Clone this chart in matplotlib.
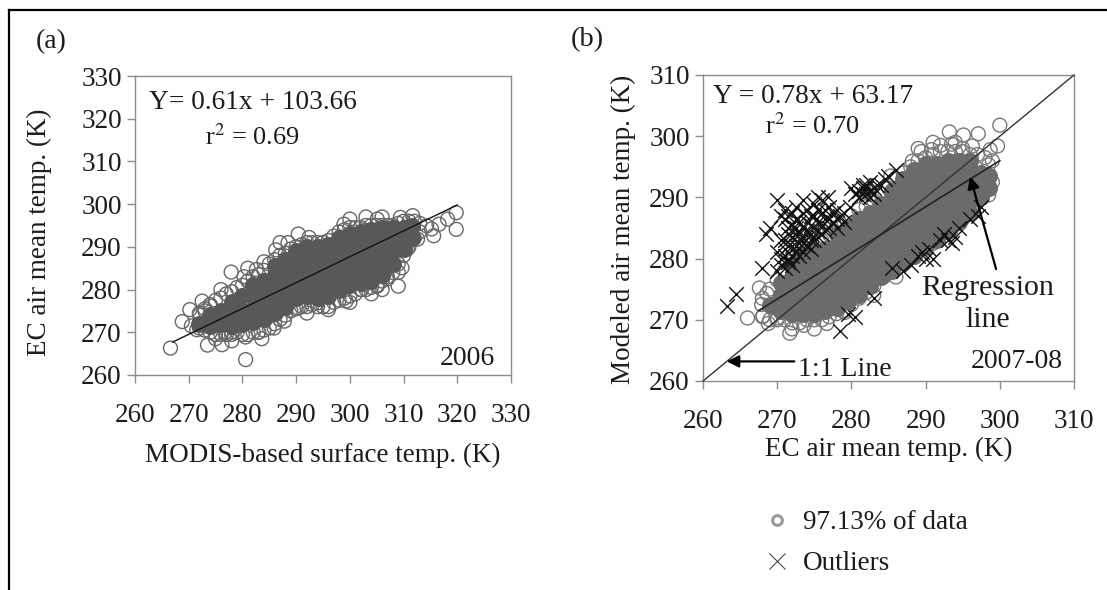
import numpy as np
import matplotlib
matplotlib.use("Agg")
import matplotlib.pyplot as plt
from matplotlib.lines import Line2D

W, H = 1107, 590

ticks_a = [260, 270, 280, 290, 300, 310, 320, 330]
ticks_b = [260, 270, 280, 290, 300, 310]

# panel a, solid middle of the cloud
a_core = [
    (272, 272), (274, 271.5), (274, 274), (276, 272), (276, 275),
    (278, 271.5), (278, 274.5), (278, 277), (280, 272), (280, 275), (280, 278.5),
    (282, 272.5), (282, 275.5), (282, 278.5), (282, 281),
    (284, 273), (284, 276), (284, 279), (284, 282),
    (286, 274.5), (286, 277.5), (286, 280.5), (286, 283.5), (286, 285.5),
    (288, 276), (288, 279), (288, 282), (288, 285), (288, 287),
    (290, 278), (290, 281), (290, 284), (290, 287), (290, 289),
    (292, 278.5), (292, 281.5), (292, 284.5), (292, 287.5), (292, 290),
    (294, 278), (294, 281), (294, 284), (294, 287), (294, 290),
    (296, 278.5), (296, 281.5), (296, 284.5), (296, 287.5), (296, 290.5),
    (298, 280), (298, 283), (298, 286), (298, 289), (298, 292),
    (300, 281), (300, 284), (300, 287), (300, 290), (300, 293),
    (302, 281.5), (302, 284.5), (302, 287.5), (302, 290.5), (302, 293.5),
    (304, 282), (304, 285), (304, 288), (304, 291), (304, 294),
    (306, 283.5), (306, 286.5), (306, 289.5), (306, 292.5), (306, 294.5),
    (308, 286), (308, 289), (308, 292), (308, 294.5),
    (310, 289.5), (310, 292), (310, 294.5), (311.5, 292), (311.5, 295),
]
# panel a, separate circles round the edge
a_rim = [
    (266.6, 266.3), (268.8, 272.5), (270.2, 275.3), (272.5, 277.3), (273.5, 267),
    (276.2, 267.1), (280.6, 263.6), (280.6, 268.9), (283.6, 268.5), (277.9, 284.1),
    (280.3, 283), (282.6, 284.7), (286.2, 289.3), (290.4, 293), (309, 280.8),
    (309.7, 285.1), (319.8, 298), (319.8, 294.1), (318.2, 296.5), (316.6, 295.3),
    (315.6, 292.6), (315.2, 294.2), (314.3, 294.9), (311.7, 297.3), (309.4, 296.9),
    (305.1, 296.5), (298.9, 295.3), (296, 275.3), (299.3, 277.3), (302.2, 280),
    (305.1, 280.8), (287.8, 272.6), (285.9, 271), (276.7, 269.9), (271.5, 270.6),
    (270.5, 271.5), (290.4, 275.7), (294, 276.9), (288.8, 287), (288.5, 291),
    (292.4, 292.2), (276, 280), (274.1, 276.1), (310.7, 289.5), (312.6, 291.8),
    (272, 274), (273, 275), (278, 269.5), (283, 270), (307, 282.5), (309, 284),
    (281, 285), (284, 286.5), (287, 291), (300, 296.5), (303, 297), (306, 297),
    (292, 274.5), (300, 277), (304, 279), (306, 280), (278, 268), (275, 268.5),
]
# panel a, upper and lower edge of the overlapping circles
a_edge_x = [272, 273, 274, 275, 276, 277, 278, 279, 280, 281, 282, 283, 284, 285,
            286, 287, 288, 289, 290, 291, 292, 293, 294, 295, 296, 297, 298, 299,
            300, 301, 302, 303, 304, 305, 306, 307, 308, 309, 310, 311, 312, 313]
a_edge_up = [274.5, 275.5, 276.5, 277.5, 278, 279, 279.5, 280.5, 281, 282, 283, 283.5, 284.5, 286,
             287, 288, 288.5, 289.5, 290, 290.5, 291, 291, 291, 291, 291.5, 292.5, 293.5, 294,
             294.5, 294.5, 294.5, 295, 295, 295, 295, 295, 295, 295.5, 296, 296, 296, 295.5]
a_edge_lo = [271, 270.5, 270, 269.5, 269.5, 269.5, 270, 270, 269.5, 269.5, 270, 270, 270.5, 271,
             272, 273, 274, 275, 275.5, 276, 276, 276.5, 276, 276, 276, 277, 277.5, 278,
             278.5, 279, 280, 280, 280.5, 281, 282, 283, 284, 286, 288, 290, 292, 293.5]
a_line_x = [267, 320]
a_line_y = [267.7, 299.8]

# panel b, solid middle of the cloud
b_core = [
    (269, 272.5), (270.5, 271.5), (270.5, 274), (270.5, 276),
    (272, 271), (272, 273), (272, 275), (272, 277), (272, 279),
    (273.5, 271), (273.5, 273), (273.5, 275), (273.5, 277), (273.5, 279), (273.5, 280.5),
    (275, 271), (275, 273), (275, 275), (275, 277), (275, 279), (275, 281),
    (276.5, 271.5), (276.5, 273.5), (276.5, 275.5), (276.5, 277.5), (276.5, 279.5), (276.5, 281.5),
    (278, 272), (278, 274), (278, 276), (278, 278), (278, 280), (278, 282), (278, 284),
    (279.5, 273), (279.5, 275), (279.5, 277), (279.5, 279), (279.5, 281), (279.5, 283), (279.5, 285),
    (281, 274), (281, 276), (281, 278), (281, 280), (281, 282), (281, 284), (281, 286.5),
    (282.5, 275.5), (282.5, 277.5), (282.5, 279.5), (282.5, 281.5), (282.5, 283.5), (282.5, 285.5), (282.5, 287.5),
    (284, 277), (284, 279), (284, 281), (284, 283), (284, 285), (284, 287), (284, 289),
    (285.5, 278), (285.5, 280), (285.5, 282), (285.5, 284), (285.5, 286), (285.5, 288), (285.5, 290), (285.5, 291),
    (287, 279.5), (287, 281.5), (287, 283.5), (287, 285.5), (287, 287.5), (287, 289.5), (287, 291.5), (287, 293),
    (288.5, 280.5), (288.5, 282.5), (288.5, 284.5), (288.5, 286.5), (288.5, 288.5), (288.5, 290.5), (288.5, 292.5), (288.5, 294.5),
    (290, 282), (290, 284), (290, 286), (290, 288), (290, 290), (290, 292), (290, 294), (290, 295.5),
    (291.5, 283), (291.5, 285), (291.5, 287), (291.5, 289), (291.5, 291), (291.5, 293), (291.5, 295.5),
    (293, 284.5), (293, 286.5), (293, 288.5), (293, 290.5), (293, 292.5), (293, 294.5), (293, 296),
    (294.5, 286), (294.5, 288), (294.5, 290), (294.5, 292), (294.5, 294), (294.5, 296),
    (296, 287.5), (296, 289.5), (296, 291.5), (296, 293.5), (296, 296),
    (297.5, 290), (297.5, 292), (297.5, 294), (298.5, 291.5), (298.5, 293.5),
]
# panel b, separate circles round the edge
b_rim = [
    (300, 301.8), (293.2, 300.7), (295.1, 300.2), (297.1, 300.4), (296.3, 298.4),
    (299.7, 298.4), (298.7, 297.8), (290.8, 297.8), (289.4, 297.5), (288.2, 295.9),
    (298.5, 295.3), (298.7, 293.5), (298.5, 290.4), (266, 270.3), (267.6, 275.2),
    (268.6, 274.3), (267.9, 272.5), (268.1, 270.6), (268.8, 269.4), (271.7, 267.8),
    (273.6, 269.1), (276.7, 269.4), (270, 270.3), (279.1, 271.2), (281.5, 274.9),
    (284.4, 277.1), (287.2, 279.3), (290.1, 281.7), (293.5, 284.8), (296.3, 288.2),
    (293.5, 298.7), (285.3, 293.5), (292, 298.5), (295, 298), (297.5, 291),
    (272, 268.5), (275, 268.5), (289, 298), (291, 299), (294, 299), (283, 274),
    (286, 277), (291, 282.5), (295, 286.5),
]
# panel b, upper and lower edge of the overlapping circles
b_edge_x = [268, 269, 270, 271, 272, 273, 274, 275, 276, 277, 278, 279, 280, 281, 282, 283,
            284, 285, 286, 287, 288, 289, 290, 291, 292, 293, 294, 295, 296, 297, 298, 299]
b_edge_up = [273.5, 275, 276.5, 278, 279.5, 280.5, 281.5, 282, 283, 284, 285, 286, 287, 288, 288.5, 289.5,
             290.5, 291.5, 293, 294, 295, 296, 296.5, 297, 297.5, 297.5, 297.5, 297.5, 297, 297, 296.5, 296]
b_edge_lo = [270.5, 270, 270, 270, 269.5, 269.5, 270, 270, 270, 270.5, 271, 271.5, 272.5, 273.5, 274.5, 275.5,
             277, 278, 279, 280, 281, 282, 283, 284, 285, 286, 287, 288, 289, 290, 291, 292.5]
b_cross = [
    (270, 289.5), (270.5, 287), (269, 285), (268.5, 284), (271, 288), (272, 287.5),
    (272.5, 288.5), (273.5, 289.5), (274, 288), (275, 289), (275.5, 290), (276, 289.5),
    (276.8, 290), (277, 288.5), (278, 288), (279, 287.5), (279.8, 288.5), (273, 286),
    (274, 286), (275, 287), (276, 287.5), (277, 286.5), (278, 286.5), (271, 286.5),
    (271.5, 285), (272, 285.5), (272.5, 284), (273, 284), (274, 284.5), (275, 285),
    (276, 285.5), (277, 285), (278, 285), (270.5, 283), (271, 283), (271.5, 282),
    (272.5, 282), (273.5, 282.5), (274.5, 283), (275.5, 283.5), (270, 281), (271, 280.5),
    (272, 280.5), (273, 280.5), (273.5, 281), (270.5, 279), (271, 278.5), (271.5, 279.5),
    (270, 278), (268, 278.5), (274.5, 281.5), (272, 283.5),
    (271.5, 287), (272.5, 286.5), (273.5, 287.5), (274.5, 287), (275.5, 288), (276.5, 288),
    (277.5, 287.5), (278.5, 287), (271.5, 284), (273.5, 285), (274.5, 285.5), (275.5, 286),
    (276.5, 286.5), (277.5, 286), (279, 286), (272.5, 285), (273.5, 283.5), (274.5, 284),
    (275.5, 284.5), (276.5, 284.5), (272, 282), (273, 282.5), (274, 282), (271, 281.5),
    (272.5, 281), (270.5, 280), (271.5, 280), (272, 279), (275, 283), (276, 284),
    (281, 291), (281.5, 292), (282, 291.5), (282.5, 292.5), (282, 290.5), (281, 290),
    (282.5, 291), (283, 291.5), (281.5, 290.5), (280, 291.5), (283.5, 292), (284, 292),
    (285, 293.5), (286, 294.5), (284.5, 293), (281.5, 291.5), (282, 292), (282.5, 290),
    (283, 290.5), (280.5, 290.5),
    (289, 280.5), (289.5, 281), (290, 280), (290.5, 281.5), (291, 280), (292, 283),
    (292.5, 284), (293, 283), (293.5, 282.5), (294, 283.5), (294.5, 285), (296, 286.5),
    (297, 287), (297.5, 288.5), (288, 279), (287, 278), (285.5, 278.5), (283, 273.5),
    (279.5, 271), (280.5, 270.5), (278.5, 268.2), (263.2, 272.2), (264.5, 274.2),
]
b_reg_x = [267.5, 300]
b_reg_y = [271.5, 296]
one_one = [260, 310]

plt.rcParams["font.family"] = ["Liberation Serif", "DejaVu Serif"]
TXT = "#1c1c1c"
AXC = "#8c8c8c"
FS = 19.5


def px_axes(fig, left, top, right, bottom):
    return fig.add_axes([left / W, 1 - bottom / H, (right - left) / W, (bottom - top) / H])


def style(ax, ticks):
    ax.set_xlim(ticks[0], ticks[-1])
    ax.set_ylim(ticks[0], ticks[-1])
    ax.set_xticks(ticks)
    ax.set_yticks(ticks)
    for s in ax.spines.values():
        s.set_color(AXC)
        s.set_linewidth(1)
    ax.tick_params(colors=AXC, labelcolor=TXT, labelsize=FS, length=6, width=1)


def draw_cloud(ax, core, rim, edge_x, edge_up, edge_lo, core_col, rim_col):
    cx, cy = np.array(core).T
    rx, ry = np.array(rim).T
    ax.scatter(rx, ry, s=100, facecolors="none", edgecolors=rim_col, linewidths=1, zorder=2)
    ax.scatter(edge_x, edge_up, s=100, facecolors="none", edgecolors=rim_col, linewidths=1, zorder=2)
    ax.scatter(edge_x, edge_lo, s=100, facecolors="none", edgecolors=rim_col, linewidths=1, zorder=2)
    ax.scatter(cx, cy, s=150, color=core_col, linewidths=0, zorder=3)


fig = plt.figure(figsize=(W / 100, H / 100), dpi=100)

ax1 = px_axes(fig, 135, 76, 511, 375)
style(ax1, ticks_a)
draw_cloud(ax1, a_core, a_rim, a_edge_x, a_edge_up, a_edge_lo, "#585858", "#686868")
ax1.plot(a_line_x, a_line_y, color="#111111", lw=1, zorder=4)
ax1.tick_params(axis="x", pad=14)
ax1.set_xlabel("MODIS-based surface temp. (K)", fontsize=FS, color=TXT, labelpad=11)
ax1.set_ylabel("EC air mean temp. (K)", fontsize=FS, color=TXT)
ax1.yaxis.set_label_coords(-0.221, 0.478)
ax1.text(262.6, 323.8, "Y= 0.61x + 103.66", fontsize=19.7, color=TXT, va="center")
ax1.text(273, 315.8, "r$^{2}$ = 0.69", fontsize=19, color=TXT, va="center", math_fontfamily="stix")
ax1.text(327, 263.9, "2006", fontsize=20, color=TXT, va="center", ha="right")

ax2 = px_axes(fig, 703, 75, 1074, 381)
style(ax2, ticks_b)
draw_cloud(ax2, b_core, b_rim, b_edge_x, b_edge_up, b_edge_lo, "#6b6b6b", "#787878")
bx, by = np.array(b_cross).T
ax2.scatter(bx, by, s=110, marker="x", color="#111111", linewidths=1, zorder=4)
ax2.plot(one_one, one_one, color="#333333", lw=1, zorder=5, clip_on=False)
ax2.plot(b_reg_x, b_reg_y, color="#222222", lw=1.2, zorder=5)
ax2.tick_params(axis="x", pad=14)
ax2.set_xlabel("EC air mean temp. (K)", fontsize=FS, color=TXT, labelpad=2)
ax2.set_ylabel("Modeled air mean temp. (K)", fontsize=FS, color=TXT)
ax2.yaxis.set_label_coords(-0.18, 0.495)
ax2.text(261.3, 306.5, "Y = 0.78x + 63.17", fontsize=19.7, color=TXT, va="center")
ax2.text(268.3, 301.7, "r$^{2}$ = 0.70", fontsize=19, color=TXT, va="center", math_fontfamily="stix")
ax2.text(308.5, 263.2, "2007-08", fontsize=20, color=TXT, va="center", ha="right")
ax2.text(272.8, 261.8, "1:1 Line", fontsize=20, color=TXT, va="center")
ax2.text(298.4, 272.6, "Regression\nline", fontsize=21.5, color=TXT, va="center", ha="center",
         linespacing=1.3, zorder=6)
arrow = dict(arrowstyle="-|>", color="black", lw=1.6, mutation_scale=18, shrinkA=0, shrinkB=0)
ax2.annotate("", xy=(263.2, 263.2), xytext=(272.3, 263.2), arrowprops=arrow, zorder=6)
ax2.annotate("", xy=(296, 293.4), xytext=(299.5, 278.3), arrowprops=arrow, zorder=6)

handles = [
    Line2D([], [], ls="none", marker="o", ms=7, mfc="white", mec="#9a9a9a", mew=2.2),
    Line2D([], [], ls="none", marker="x", ms=11, mec="#333333", mew=0.7),
]
fig.legend(handles, ["97.13% of data", "Outliers"], loc="upper left", frameon=False,
           bbox_to_anchor=(750 / W, 1 - 510 / H), fontsize=FS, labelcolor=TXT,
           handletextpad=-0.05, labelspacing=0.6, borderaxespad=0, borderpad=0)

fig.text(36 / W, 1 - 42 / H, "(a)", fontsize=20, color=TXT, va="center")
fig.text(571 / W, 1 - 40 / H, "(b)", fontsize=20.5, color=TXT, va="center")

# black frame, only top and left are inside the picture
fig.add_artist(Line2D([9 / W, 1], [1 - 10 / H, 1 - 10 / H], color="black", lw=1.6))
fig.add_artist(Line2D([9 / W, 9 / W], [0, 1 - 10 / H], color="black", lw=1.6))

fig.savefig("out.png", dpi=100)
